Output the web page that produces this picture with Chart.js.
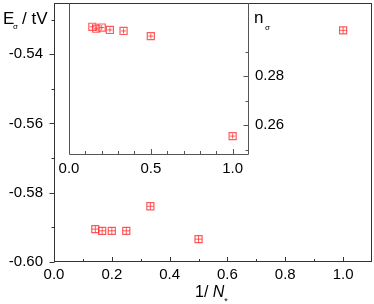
<!DOCTYPE html>
<html>
<head>
<meta charset="utf-8">
<script src="https://cdn.jsdelivr.net/npm/chart.js@4.4.1/dist/chart.umd.min.js"></script>
<style>
body { margin: 0; background: #fff; }
#wrap { position: relative; width: 374px; height: 304px; }
canvas { position: absolute; left: 0; top: 0; }
</style>
</head>
<body>
<div id="wrap">
  <canvas id="main" width="374" height="304"></canvas>
  <canvas id="inset" width="374" height="304"></canvas>
</div>
<script>
// 1/N* for each cluster
const invN = [1 / 7, 1 / 6, 1 / 5, 1 / 4, 1 / 3, 1 / 2, 1];
// main panel, E_sigma in units of tV
const energy = [-0.5905, -0.5910, -0.5910, -0.5910, -0.5839, -0.5934, -0.5331];
// inset, n_sigma
const nSigma = [0.3001, 0.2993, 0.2998, 0.2988, 0.2984, 0.2963, 0.2555];

const mainXTicks = [0, 0.2, 0.4, 0.6, 0.8, 1.0];
const mainYTicks = [-0.60, -0.58, -0.56, -0.54];
const insetXTicks = [0, 0.5, 1.0];
const insetYTicks = [0.26, 0.28];

const FONT = "'Liberation Sans', Arial, sans-serif";
const red = 'rgba(255, 50, 50, 0.8)';

function pts(xs, ys) {
  return xs.map((x, i) => ({ x: x, y: ys[i] }));
}

// fixed axis box, no extra room for overhanging labels
function fix(size, horiz) {
  return function (s) {
    if (horiz) s.height = size; else s.width = size;
    s.paddingTop = 0; s.paddingBottom = 0; s.paddingLeft = 0; s.paddingRight = 0;
  };
}

// tick marks incl. minor ones; Chart.js has none of its own
function ticks(ctx, scale, n0, n1, step, every, side, inward, color) {
  const a = scale.chart.chartArea;
  ctx.save();
  ctx.strokeStyle = color;
  ctx.lineWidth = 1;
  ctx.beginPath();
  for (let i = n0; i <= n1; i++) {
    const p = Math.round(scale.getPixelForValue(i * step)) + 0.5;
    const len = (i % every === 0) ? 5 : 3;
    if (side === 'bottom') {
      const y0 = a.bottom;
      ctx.moveTo(p, y0);
      ctx.lineTo(p, inward ? y0 - len : y0 + len);
    } else if (side === 'left') {
      const x0 = Math.round(a.left) + 0.5;
      ctx.moveTo(x0, p);
      ctx.lineTo(inward ? x0 + len : x0 - len, p);
    } else {
      const x0 = Math.round(a.right) - 0.5;
      ctx.moveTo(x0, p);
      ctx.lineTo(inward ? x0 - len : x0 + len, p);
    }
  }
  ctx.stroke();
  ctx.restore();
}

const mainDeco = {
  id: 'mainDeco',
  afterDraw(chart) {
    const ctx = chart.ctx;
    const a = chart.chartArea;
    ctx.save();
    ctx.strokeStyle = '#333';
    ctx.lineWidth = 1;
    ctx.strokeRect(Math.round(a.left) + 0.5, Math.round(a.top) + 0.5,
      Math.round(a.right - a.left) - 1, Math.round(a.bottom - a.top) - 1);
    ctx.restore();
    ticks(ctx, chart.scales.y, -60, -53, 0.01, 2, 'left', false, '#333');
    ticks(ctx, chart.scales.x, 0, 10, 0.1, 2, 'bottom', true, '#333');

    ctx.save();
    ctx.fillStyle = '#000';
    ctx.textBaseline = 'alphabetic';
    ctx.font = '17px ' + FONT;
    ctx.fillText('E', 3, 24);
    ctx.font = '8px ' + FONT;
    ctx.fillText('σ', 13, 29);
    ctx.font = '17px ' + FONT;
    ctx.fillText('/ tV', 22, 24);

    // x title: 1/ N*
    ctx.font = '16px ' + FONT;
    ctx.fillText('1/ ', 195, 297);
    const w = ctx.measureText('1/ ').width;
    ctx.font = 'italic 16px ' + FONT;
    ctx.fillText('N', 195 + w, 297);
    const wn = ctx.measureText('N').width;
    ctx.font = '9px ' + FONT;
    ctx.fillText('*', 195 + w + wn, 304);
    ctx.restore();
  }
};

const insetDeco = {
  id: 'insetDeco',
  afterDraw(chart) {
    const ctx = chart.ctx;
    const a = chart.chartArea;
    ctx.save();
    ctx.strokeStyle = '#555';
    ctx.lineWidth = 1;
    ctx.beginPath();
    const l = Math.round(a.left) + 0.5, r = Math.round(a.right) - 0.5, b = Math.round(a.bottom) + 0.5;
    ctx.moveTo(l, a.top);
    ctx.lineTo(l, b);
    ctx.lineTo(r, b);
    ctx.lineTo(r, a.top);
    ctx.stroke();
    ctx.restore();
    ticks(ctx, chart.scales.x, 0, 10, 0.1, 5, 'bottom', true, '#555');
    ticks(ctx, chart.scales.y, 25, 29, 0.01, 2, 'right', true, '#555');

    ctx.save();
    ctx.fillStyle = '#000';
    ctx.font = '17px ' + FONT;
    ctx.fillText('n', 254, 23);
    ctx.font = '8px ' + FONT;
    ctx.fillText('σ', 265, 30);
    ctx.restore();
  }
};

const tickFont = { family: FONT, size: 15 };

new Chart(document.getElementById('main'), {
  type: 'scatter',
  data: {
    datasets: [
      { data: pts(invN, energy), pointStyle: 'rect', pointRadius: 5, borderColor: red, backgroundColor: 'transparent', borderWidth: 1.2 },
      { data: pts(invN, energy), pointStyle: 'cross', pointRadius: 3.5, borderColor: red, borderWidth: 1 }
    ]
  },
  options: {
    responsive: false,
    animation: false,
    events: [],
    layout: { autoPadding: false, padding: { left: 0, top: 3, right: 2, bottom: 0 } },
    plugins: { legend: { display: false }, tooltip: { enabled: false } },
    scales: {
      x: {
        type: 'linear', min: 0, max: 1.1,
        grid: { display: false, drawTicks: false }, border: { display: false },
        afterFit: fix(42, true),
        afterBuildTicks(s) { s.ticks = mainXTicks.map(v => ({ value: v })); },
        ticks: { font: tickFont, color: '#000', padding: 4, maxRotation: 0, callback: v => v.toFixed(1) }
      },
      y: {
        type: 'linear', min: -0.6, max: -0.5252,
        grid: { display: false, drawTicks: false }, border: { display: false },
        afterFit: fix(54, false),
        afterBuildTicks(s) { s.ticks = mainYTicks.map(v => ({ value: v })); },
        ticks: { font: tickFont, color: '#000', padding: 11, callback: v => v.toFixed(2) }
      }
    }
  },
  plugins: [mainDeco]
});

new Chart(document.getElementById('inset'), {
  type: 'scatter',
  data: {
    datasets: [
      { data: pts(invN, nSigma), pointStyle: 'rect', pointRadius: 5, borderColor: red, backgroundColor: 'transparent', borderWidth: 1.2 },
      { data: pts(invN, nSigma), pointStyle: 'cross', pointRadius: 2.5, borderColor: red, borderWidth: 1 }
    ]
  },
  options: {
    responsive: false,
    animation: false,
    events: [],
    layout: { autoPadding: false, padding: { left: 69, top: 3, right: 0, bottom: 0 } },
    plugins: { legend: { display: false }, tooltip: { enabled: false } },
    scales: {
      x: {
        type: 'linear', min: 0, max: 1.1,
        grid: { display: false, drawTicks: false }, border: { display: false },
        afterFit: fix(150, true),
        afterBuildTicks(s) { s.ticks = insetXTicks.map(v => ({ value: v })); },
        ticks: { font: tickFont, color: '#000', padding: 6, maxRotation: 0, callback: v => v.toFixed(1) }
      },
      y: {
        type: 'linear', position: 'right', min: 0.2482, max: 0.3098,
        grid: { display: false, drawTicks: false }, border: { display: false },
        afterFit: fix(125, false),
        afterBuildTicks(s) { s.ticks = insetYTicks.map(v => ({ value: v })); },
        ticks: { font: tickFont, color: '#000', padding: 6, callback: v => v.toFixed(2) }
      }
    }
  },
  plugins: [insetDeco]
});
</script>
</body>
</html>
